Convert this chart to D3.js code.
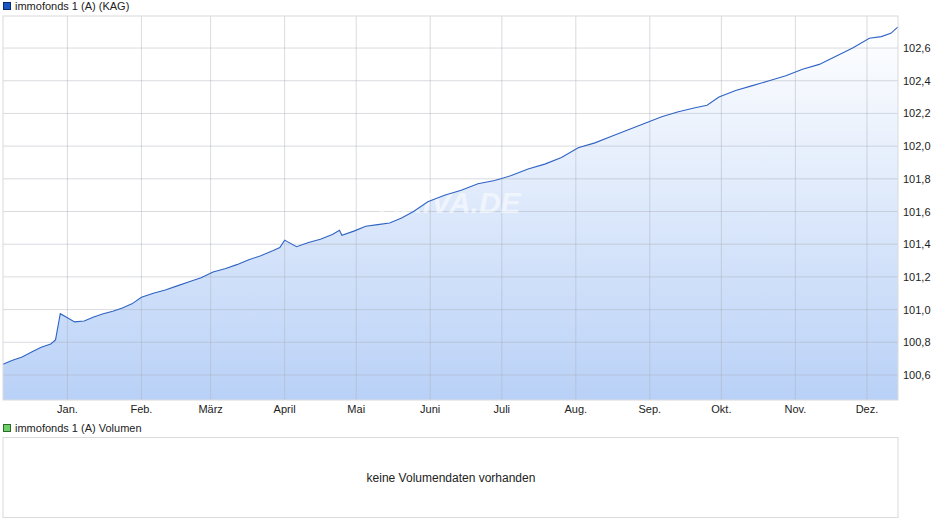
<!DOCTYPE html><html><head><meta charset="utf-8">
<script src="https://cdn.jsdelivr.net/npm/d3@7"></script>
<style>body{margin:0;background:#fff}text{font-family:Arial,"Liberation Sans",sans-serif}</style></head><body>
<svg id="c" width="940" height="526"></svg>
<script>
const dates=["2023-12-05","2023-12-09","2023-12-13","2023-12-17","2023-12-21","2023-12-25","2023-12-27","2023-12-29","2024-01-01","2024-01-04","2024-01-08","2024-01-12","2024-01-16","2024-01-20","2024-01-24","2024-01-28","2024-02-01","2024-02-06","2024-02-11","2024-02-16","2024-02-21","2024-02-26","2024-03-02","2024-03-07","2024-03-12","2024-03-17","2024-03-22","2024-03-27","2024-03-30","2024-04-01","2024-04-06","2024-04-11","2024-04-16","2024-04-21","2024-04-24","2024-04-25","2024-04-30","2024-05-05","2024-05-10","2024-05-15","2024-05-20","2024-05-25","2024-05-31","2024-06-07","2024-06-14","2024-06-21","2024-06-28","2024-07-05","2024-07-12","2024-07-19","2024-07-26","2024-08-02","2024-08-09","2024-08-16","2024-08-23","2024-08-30","2024-09-06","2024-09-13","2024-09-20","2024-09-25","2024-09-30","2024-10-07","2024-10-14","2024-10-21","2024-10-28","2024-11-04","2024-11-11","2024-11-18","2024-11-25","2024-12-02","2024-12-07","2024-12-11","2024-12-14"];
const values=[100.665,100.69,100.71,100.74,100.77,100.79,100.815,100.975,100.95,100.925,100.93,100.955,100.975,100.99,101.01,101.035,101.075,101.1,101.12,101.145,101.17,101.195,101.23,101.25,101.275,101.305,101.33,101.36,101.38,101.425,101.385,101.41,101.43,101.46,101.485,101.455,101.48,101.51,101.52,101.53,101.56,101.6,101.66,101.7,101.73,101.77,101.79,101.82,101.86,101.89,101.93,101.99,102.02,102.06,102.1,102.14,102.18,102.21,102.235,102.25,102.3,102.34,102.37,102.4,102.43,102.47,102.5,102.55,102.6,102.66,102.67,102.69,102.73];
const yTicks=[100.6,100.8,101.0,101.2,101.4,101.6,101.8,102.0,102.2,102.4,102.6];
const monthLabels=["Jan.","Feb.","März","April","Mai","Juni","Juli","Aug.","Sep.","Okt.","Nov.","Dez."];
const svg=d3.select("#c");
const L=3,R=898,T=16,B=400;
const x=d3.scaleTime().domain([new Date("2023-12-05"),new Date("2024-12-14")]).range([L,R]);
const y=d3.scaleLinear().domain([100.447,102.796]).range([B,T]);
const data=dates.map((d,i)=>({d:new Date(d),v:values[i]}));
const defs=svg.append("defs");
const g=defs.append("linearGradient").attr("id","gr").attr("x1",0).attr("y1",0).attr("x2",0).attr("y2",1);
g.append("stop").attr("offset",0).attr("stop-color","#ffffff");
g.append("stop").attr("offset",1).attr("stop-color","#b9d1f7");
svg.append("rect").attr("x",L).attr("y",T).attr("width",R-L).attr("height",B-T).attr("fill","#fff");
svg.append("path").datum(data).attr("fill","url(#gr)").attr("d",d3.area().x(d=>x(d.d)).y0(B).y1(d=>y(d.v)));
const months=monthLabels.map((m,i)=>new Date(2024,i,1));
svg.selectAll(".vg").data(months).join("line").attr("x1",d=>x(d)).attr("x2",d=>x(d)).attr("y1",T).attr("y2",B).attr("stroke","rgba(170,175,185,0.45)");
svg.selectAll(".hg").data(yTicks).join("line").attr("x1",L).attr("x2",R).attr("y1",d=>y(d)).attr("y2",d=>y(d)).attr("stroke","rgba(170,175,185,0.45)");
svg.append("text").attr("x",450).attr("y",213).attr("text-anchor","middle").attr("font-size",30).attr("font-weight","bold").attr("font-style","italic").attr("fill","#ffffff").attr("opacity",0.55).text("ARIVA.DE");
svg.append("path").datum(data).attr("fill","none").attr("stroke","#2f63c4").attr("stroke-width",1.1).attr("d",d3.line().x(d=>x(d.d)).y(d=>y(d.v)));
svg.append("rect").attr("x",L).attr("y",T).attr("width",R-L).attr("height",B-T).attr("fill","none").attr("stroke","#dadada");
svg.selectAll(".yl").data(yTicks).join("text").attr("x",903).attr("y",d=>y(d)+4).attr("font-size",11).attr("fill","#222").text(d=>d3.format(".1f")(d).replace(".",","));
svg.selectAll(".xl").data(months).join("text").attr("x",d=>x(d)).attr("y",413).attr("text-anchor","middle").attr("font-size",11).attr("fill","#222").text((d,i)=>monthLabels[i]);
function legend(yy,col,stroke,t){svg.append("rect").attr("x",3.5).attr("y",yy-7.5).attr("width",7).attr("height",7).attr("fill",col).attr("stroke",stroke);
svg.append("text").attr("x",15).attr("y",yy).attr("font-size",11).attr("fill","#222").text(t);}
legend(10,"#1a56c2","#0a2a70","immofonds 1 (A) (KAG)");
legend(432,"#6fd06a","#2a6a2a","immofonds 1 (A) Volumen");
svg.append("rect").attr("x",L).attr("y",437.5).attr("width",R-L).attr("height",80).attr("fill","#fff").attr("stroke","#dadada");
svg.append("text").attr("x",451).attr("y",482).attr("text-anchor","middle").attr("font-size",12).attr("fill","#222").text("keine Volumendaten vorhanden");
</script></body></html>
